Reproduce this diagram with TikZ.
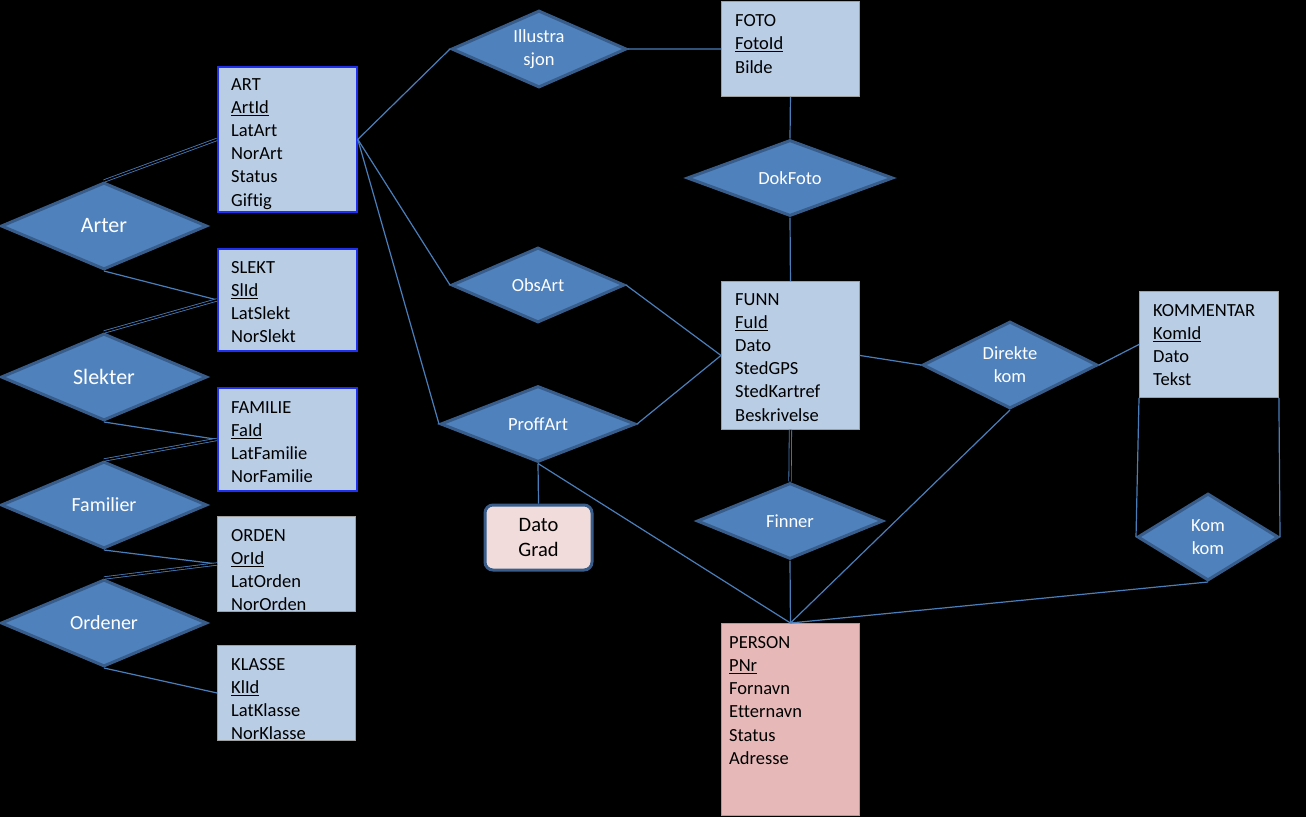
\documentclass[tikz,border=0pt]{standalone}
\usepackage{fontspec}
\setmainfont{Carlito}[Ligatures=NoCommon]
\usetikzlibrary{shapes.geometric}
\definecolor{entfill}{HTML}{B9CDE5}
\definecolor{relfill}{HTML}{4F81BD}
\definecolor{reldraw}{HTML}{385D8A}
\definecolor{linkcol}{HTML}{4A7EBB}
\definecolor{pfill}{HTML}{E6B9B8}
\definecolor{dgfill}{HTML}{F2DCDB}
\definecolor{strongblue}{HTML}{2030F0}
\tikzset{
  entity/.style={draw=gray!75, line width=0.9pt, fill=entfill, anchor=north west, inner sep=0pt, rectangle},
  bentity/.style={entity, draw=strongblue, line width=1.8pt},
  attr/.style={anchor=north west, inner sep=0pt, align=left, text=black, font=\fontsize{18.5}{23.2}\selectfont},
  rel/.style={diamond, aspect=2, draw=reldraw, line width=3pt, fill=relfill, inner sep=0pt, text=white, align=center, font=\fontsize{18.5}{23}\selectfont},
  link/.style={draw=linkcol, line width=1.2pt},
  dlink/.style={draw=linkcol, line width=0.8pt, double=black, double distance=1.6pt},
}
\begin{document}
\begin{tikzpicture}[x=1pt,y=-1pt]
\useasboundingbox (0,0) rectangle (1306,817);
\fill[black] (0,0) rectangle (1306,817);

% entities
\node[bentity, minimum width=139pt, minimum height=145pt] (art) at (217,66) {};
\node[bentity, minimum width=139pt, minimum height=102pt] (slekt) at (217,248) {};
\node[bentity, minimum width=139pt, minimum height=103pt] (familie) at (217,387) {};
\node[entity, minimum width=138pt, minimum height=95pt] (orden) at (217,516) {};
\node[entity, minimum width=138pt, minimum height=95pt] (klasse) at (217,645) {};
\node[entity, minimum width=138pt, minimum height=95pt] (foto) at (721,1) {};
\node[entity, minimum width=138pt, minimum height=148pt] (funn) at (721,281) {};
\node[entity, minimum width=139pt, minimum height=106pt] (komm) at (1139,291) {};
\node[entity, fill=pfill, minimum width=138pt, minimum height=192pt] (person) at (721,623) {};

\node[attr] (artT) at (231,78) {ART\\\underline{ArtId}\\LatArt\\NorArt\\Status\\Giftig};
\node[attr] (slektT) at (231,261) {SLEKT\\\underline{SlId}\\LatSlekt\\NorSlekt};
\node[attr] (familieT) at (231,401) {FAMILIE\\\underline{FaId}\\LatFamilie\\NorFamilie};
\node[attr] (ordenT) at (231,529) {ORDEN\\\underline{OrId}\\LatOrden\\NorOrden};
\node[attr] (klasseT) at (231,658) {KLASSE\\\underline{KlId}\\LatKlasse\\NorKlasse};
\node[attr, font=\fontsize{18.5}{23.6}\selectfont] (fotoT) at (735,14) {FOTO\\\underline{FotoId}\\Bilde};
\node[attr] (funnT) at (735,293) {FUNN\\\underline{FuId}\\Dato\\StedGPS\\StedKartref\\Beskrivelse};
\node[attr] (kommT) at (1153,304) {KOMMENTAR\\\underline{KomId}\\Dato\\Tekst};
\node[attr] (personT) at (729,636) {PERSON\\\underline{PNr}\\Fornavn\\Etternavn\\Status\\Adresse};

% relationships
\node[rel, minimum width=206pt, minimum height=87pt, font=\fontsize{22}{26}\selectfont] (arter) at (104,226) {Arter};
\node[rel, minimum width=206pt, minimum height=87pt, font=\fontsize{22}{26}\selectfont] (slekter) at (104,377) {Slekter};
\node[rel, minimum width=206pt, minimum height=87pt, font=\fontsize{20}{24}\selectfont] (familier) at (104,505) {Familier};
\node[rel, minimum width=206pt, minimum height=87pt, font=\fontsize{20}{24}\selectfont] (ordener) at (104,623) {Ordener};
\node[rel, minimum width=175pt, minimum height=77pt] (illu) at (539,49) {Illustra\\sjon};
\node[rel, minimum width=206pt, minimum height=76pt] (dokfoto) at (790,178) {DokFoto};
\node[rel, minimum width=173pt, minimum height=75pt] (obsart) at (538,285) {ObsArt};
\node[rel, minimum width=195pt, minimum height=76pt] (proffart) at (538,424) {ProffArt};
\node[rel, minimum width=186pt, minimum height=76pt] (finner) at (790,521) {Finner};
\node[rel, minimum width=175pt, minimum height=87pt] (direkte) at (1010,365) {Direkte\\kom};
\node[rel, minimum width=141pt, minimum height=87pt] (komkom) at (1208,537) {Kom\\kom};

% attribute box
\node[draw=reldraw, line width=3pt, fill=dgfill, rounded corners=8pt, minimum width=107pt, minimum height=65pt, inner sep=0pt, align=center, font=\fontsize{20.5}{25}\selectfont] (dg) at (538.5,537.5) {Dato\\Grad};

% connectors
\draw[link] (art.east) -- (illu.west);
\draw[link] (art.east) -- (obsart.west);
\draw[link] (art.east) -- (proffart.west);
\draw[link] (illu.east) -- (foto.west);
\draw[link] (foto.south) -- (dokfoto.north);
\draw[link] (dokfoto.south) -- (funn.north);
\draw[link] (obsart.east) -- (funn.west);
\draw[link] (proffart.east) -- (funn.west);
\draw[link] (proffart.south) -- (dg.north);
\draw[link] (proffart.south) -- (person.north);
\draw[dlink] (funn.south) -- (finner.north);
\draw[link] (finner.south) -- (person.north);
\draw[link] (direkte.south) -- (person.north);
\draw[link] (komkom.south) -- (person.north);
\draw[link] (funn.east) -- (direkte.west);
\draw[link] (direkte.east) -- (komm.west);
\draw[link] (komm.south west) -- (komkom.west);
\draw[link] (komm.south east) -- (komkom.east);

\draw[dlink] (arter.north) -- (art.west);
\draw[link] (arter.south) -- (slekt.west);
\draw[dlink] (slekter.north) -- (slekt.west);
\draw[link] (slekter.south) -- (familie.west);
\draw[dlink] (familier.north) -- (familie.west);
\draw[link] (familier.south) -- (orden.west);
\draw[dlink] (ordener.north) -- (orden.west);
\draw[link] (ordener.south) -- (klasse.west);
\end{tikzpicture}
\end{document}
